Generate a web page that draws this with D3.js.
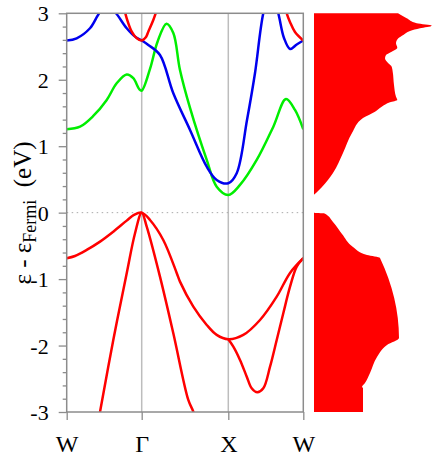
<!DOCTYPE html>
<html><head><meta charset="utf-8">
<script src="https://cdn.jsdelivr.net/npm/d3@7"></script>
<style>body{margin:0;background:#fff} svg text{font-family:"Liberation Serif","Times New Roman",serif !important;}</style>
</head><body><svg id="c" width="434" height="466"></svg>
<script>
// k-path labels and positions
const kTicks = [0, 0.866, 1.866, 2.732];
const kLabels = ["W", "Γ", "X", "W"];
const eTicks = [-3, -2, -1, 0, 1, 2, 3];

// Bands: [k, energy (eV)]
const cb1 = [[0,1.255],[0.154,1.294],[0.307,1.455],[0.462,1.696],[0.577,1.947],[0.693,2.080],[0.769,2.023],[0.838,1.857],[0.866,1.836],[0.962,2.163],[1.048,2.569],[1.152,2.844],[1.231,2.704],[1.308,2.147],[1.424,1.576],[1.617,0.793],[1.732,0.391],[1.866,0.266],[2.001,0.417],[2.194,0.793],[2.386,1.294],[2.532,1.711],[2.636,1.546],[2.732,1.255]];
const cb2 = [[0,2.591],[0.115,2.624],[0.269,2.775],[0.385,3.016],[0.471,3.10],[0.558,3.016],[0.693,2.775],[0.789,2.649],[0.866,2.591],[0.942,2.524],[1.077,2.373],[1.231,1.797],[1.424,1.245],[1.617,0.692],[1.732,0.492],[1.866,0.442],[1.963,0.593],[2.082,1.394],[2.174,2.098],[2.270,3.001],[2.356,3.38],[2.443,3.001],[2.509,2.629],[2.579,2.463],[2.656,2.531],[2.732,2.591]];
const cb3a = [[0.640,3.20],[0.693,2.925],[0.751,2.724],[0.806,2.629],[0.866,2.591],[0.916,2.644],[0.942,2.724],[1.000,2.900],[1.060,3.126]];
const cb3b = [[2.515,3.156],[2.540,3.001],[2.578,2.870],[2.636,2.719],[2.732,2.591]];
const vb1 = [[0,-0.686],[0.096,-0.652],[0.231,-0.561],[0.385,-0.436],[0.538,-0.286],[0.693,-0.120],[0.777,-0.035],[0.866,0],[0.962,-0.110],[1.115,-0.411],[1.270,-0.907],[1.308,-1.038],[1.462,-1.415],[1.617,-1.690],[1.732,-1.840],[1.866,-1.905],[2.039,-1.840],[2.232,-1.615],[2.425,-1.264],[2.579,-0.907],[2.732,-0.686]];
const vb2 = [[1.866,-1.905],[1.924,-2.017],[2.001,-2.217],[2.079,-2.468],[2.136,-2.643],[2.201,-2.703],[2.270,-2.643],[2.348,-2.318],[2.425,-1.916],[2.501,-1.514],[2.579,-1.114],[2.656,-0.813],[2.732,-0.686]];
const vb3 = [[0.361,-3.15],[0.385,-2.995],[0.538,-1.916],[0.693,-0.912],[0.789,-0.310],[0.866,0],[0.924,-0.211],[1.077,-0.963],[1.231,-1.815],[1.404,-2.819],[1.462,-2.995],[1.487,-3.135]];

// Density of states: [energy (eV), dos]
const dos = [[3.05,84],[3.010,84],[2.925,92.7],[2.850,102.7],[2.814,117.7],[2.775,106],[2.734,96],[2.674,89.3],[2.625,84.3],[2.549,82],[2.483,83.3],[2.423,77.7],[2.373,72],[2.324,71],[2.248,74.3],[2.197,77.7],[2.122,78.7],[1.922,80],[1.746,82],[1.696,83.3],[1.661,76],[1.595,67.7],[1.520,61],[1.425,49],[1.199,38],[0.898,29],[0.597,19],[0.387,8],[0.296,2],[0.266,0],[0.0,0],[-0.01,10],[-0.140,19],[-0.321,28],[-0.516,39],[-0.637,53],[-0.682,66],[-1.886,85],[-1.991,73],[-2.172,63],[-2.412,56],[-2.563,51],[-2.623,48],[-2.640,49],[-3.0,49]];

const svg = d3.select("#c");
const x = d3.scaleLinear().domain([0, 2.732]).range([66.7, 303.3]);
const y = d3.scaleLinear().domain([-3, 3]).range([412, 13.3]);
const xd = d3.scaleLinear().domain([0, 120]).range([314, 434]);

const frameCol = "#8c8c8c";

svg.append("clipPath").attr("id","clip").append("rect")
  .attr("x", x(0)).attr("y", y(3)).attr("width", x(2.732)-x(0)).attr("height", y(-3)-y(3));

// DOS
svg.append("path").datum(dos)
  .attr("fill", "#ff0000")
  .attr("d", d3.area().curve(d3.curveMonotoneY)
     .y(d => y(Math.max(-3, Math.min(3, d[0])))).x0(xd(0)).x1(d => xd(d[1]))(dos));

// vertical symmetry lines
svg.selectAll("line.sym").data(kTicks.slice(1,3)).enter().append("line")
  .attr("x1", d => x(d)).attr("x2", d => x(d)).attr("y1", y(3)).attr("y2", y(-3))
  .attr("stroke", "#bdbdbd").attr("stroke-width", 1.5);

// Fermi level
svg.append("line").attr("x1", x(0)).attr("x2", x(2.732)).attr("y1", y(0)).attr("y2", y(0))
  .attr("stroke", "#aaaaaa").attr("stroke-width", 1).attr("stroke-dasharray", "1.5,3.5");

// bands
const line = d3.line().curve(d3.curveCatmullRom.alpha(0.5)).x(d => x(d[0])).y(d => y(d[1]));
const g = svg.append("g").attr("clip-path", "url(#clip)");
const bands = [[vb3,"#ff0000"],[vb2,"#ff0000"],[vb1,"#ff0000"],[cb1,"#00ee00"],[cb2,"#0000ee"],[cb3a,"#ff0000"],[cb3b,"#ff0000"]];
bands.forEach(([b,c]) => g.append("path").datum(b).attr("d", line)
  .attr("fill","none").attr("stroke", c).attr("stroke-width", 2.5).attr("stroke-linejoin","round"));

// frame
svg.append("rect").attr("x", x(0)).attr("y", y(3)).attr("width", x(2.732)-x(0)).attr("height", y(-3)-y(3))
  .attr("fill","none").attr("stroke", frameCol).attr("stroke-width", 1.5);

// axes
const minor = d3.range(-3, 3.001, 0.2).map(v => +v.toFixed(2)).filter(v => Math.abs(v - Math.round(v)) > 1e-6);
const ay = svg.append("g").attr("transform", `translate(${x(0)},0)`)
  .call(d3.axisLeft(y).tickValues(eTicks).tickSize(8).tickSizeOuter(0).tickPadding(10).tickFormat(d => String(d)));
const aym = svg.append("g").attr("transform", `translate(${x(0)},0)`)
  .call(d3.axisLeft(y).tickValues(minor).tickSize(4).tickSizeOuter(0).tickFormat(""));
const ax = svg.append("g").attr("transform", `translate(0,${y(-3)})`)
  .call(d3.axisBottom(x).tickValues(kTicks).tickSize(8).tickSizeOuter(0).tickPadding(15).tickFormat((d,i) => kLabels[i]));
[ay, aym, ax].forEach(a => {
  a.attr("font-family", null);
  a.select(".domain").remove();
  a.selectAll(".tick line").attr("stroke", frameCol).attr("stroke-width", 1.3);
  a.selectAll("text").attr("fill", "#000");
});
ay.selectAll("text").attr("font-size", 22).attr("dy", "0.34em");
ax.selectAll("text").attr("font-size", 24).attr("dy", "0.72em");

// y label
const yl = svg.append("text").attr("transform", "translate(31,213) rotate(-90)")
  .attr("text-anchor", "middle").attr("font-size", 25)
  .attr("xml:space", "preserve");
yl.append("tspan").text("ε - ε");
yl.append("tspan").attr("font-size", 18).attr("dy", 5).text("Fermi");
yl.append("tspan").attr("dy", -5).text("  (eV)");
</script></body></html>
